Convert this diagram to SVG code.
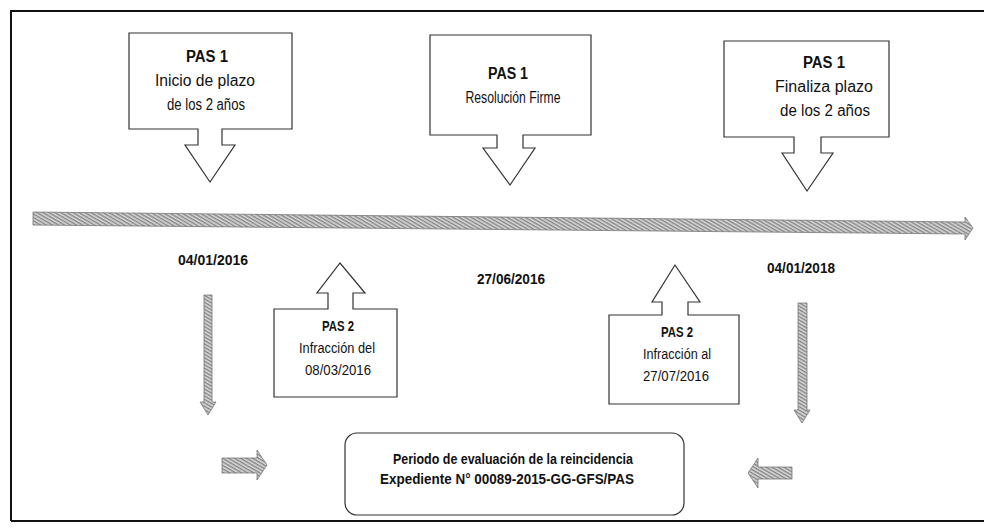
<svg xmlns="http://www.w3.org/2000/svg" width="984" height="529" viewBox="0 0 984 529">
<defs>
<pattern id="ht" width="3" height="3" patternUnits="userSpaceOnUse" patternTransform="rotate(30)">
<rect width="3" height="3" fill="#d8d8d8"/>
<rect width="3" height="1.3" fill="#808080"/>
</pattern>
</defs>
<style>
.frame{fill:none;stroke:#111;stroke-width:2}
.box{fill:#fff;stroke:#333;stroke-width:1.2;stroke-linejoin:miter}
.arr{fill:url(#ht);stroke:#777;stroke-width:0.8}
.t{font-family:"Liberation Sans",Arial,sans-serif;fill:#111;text-anchor:middle}
.b{font-weight:bold}
.l{font-size:16px}
.s{font-size:14px}
</style>
<rect width="984" height="529" fill="#fff"/>
<path class="frame" d="M11,521 V11 H984 M11,521 H984"/>

<g id="connectors">
<path id="timeline" class="arr" d="M33,212 L965,222 L965,217 L973,228 L965,240 L965,234 L33,225 Z"/>
<path id="down-left" class="arr" d="M204,295 H212 V402 H216 L208,415 L200,402 H204 Z"/>
<path id="down-right" class="arr" d="M798,303 H807 V410 H810 L802,423 L794,410 H798 Z"/>
<path id="right-arrow" class="arr" d="M222,458 H257 V450 L267,465 L257,480 V473 H222 Z"/>
<path id="left-arrow" class="arr" d="M792,467 H758 V458 L748,473 L758,488 V479 H792 Z"/>
</g>

<g id="pas1-inicio">
<path class="box" d="M129,33 H292 V129 H222 V145 H235 L210,182 L185,145 H198 V129 H129 Z"/>
<text class="t b l" x="207" y="62" textLength="42" lengthAdjust="spacingAndGlyphs">PAS 1</text>
<text class="t l" x="205" y="86" textLength="100" lengthAdjust="spacingAndGlyphs">Inicio de plazo</text>
<text class="t l" x="206" y="110" textLength="78" lengthAdjust="spacingAndGlyphs">de los 2 años</text>
</g>

<g id="pas1-resolucion">
<path class="box" d="M430,35 H591 V135 H523 V148 H535 L510,185 L483,148 H497 V135 H430 Z"/>
<text class="t b l" x="508" y="79" textLength="40" lengthAdjust="spacingAndGlyphs">PAS 1</text>
<text class="t l" x="513" y="103" textLength="95" lengthAdjust="spacingAndGlyphs">Resolución Firme</text>
</g>

<g id="pas1-finaliza">
<path class="box" d="M724,41 H889 V137 H821 V153 H833 L807,191 L782,153 H794 V137 H724 Z"/>
<text class="t b l" x="824" y="68" textLength="42" lengthAdjust="spacingAndGlyphs">PAS 1</text>
<text class="t l" x="824" y="92" textLength="98" lengthAdjust="spacingAndGlyphs">Finaliza plazo</text>
<text class="t l" x="825" y="116" textLength="90" lengthAdjust="spacingAndGlyphs">de los 2 años</text>
</g>

<g id="dates">
<text class="t b s" x="213" y="265" textLength="70" lengthAdjust="spacingAndGlyphs">04/01/2016</text>
<text class="t b s" x="511" y="284" textLength="68" lengthAdjust="spacingAndGlyphs">27/06/2016</text>
<text class="t b s" x="801" y="273" textLength="68" lengthAdjust="spacingAndGlyphs">04/01/2018</text>
</g>

<g id="pas2-infraccion-del">
<path class="box" d="M274,309 H328 V293 H317 L340,263 L365,293 H353 V309 H397 V397 H274 Z"/>
<text class="t b s" x="338" y="331" textLength="32" lengthAdjust="spacingAndGlyphs">PAS 2</text>
<text class="t s" x="337" y="353" textLength="76" lengthAdjust="spacingAndGlyphs">Infracción del</text>
<text class="t s" x="338" y="375" textLength="66" lengthAdjust="spacingAndGlyphs">08/03/2016</text>
</g>

<g id="pas2-infraccion-al">
<path class="box" d="M609,315 H662 V302 H652 L675,265 L700,302 H688 V315 H739 V404 H609 Z"/>
<text class="t b s" x="677" y="337" textLength="32" lengthAdjust="spacingAndGlyphs">PAS 2</text>
<text class="t s" x="677" y="359" textLength="68" lengthAdjust="spacingAndGlyphs">Infracción al</text>
<text class="t s" x="676" y="381" textLength="66" lengthAdjust="spacingAndGlyphs">27/07/2016</text>
</g>

<g id="periodo">
<rect class="box" x="345" y="433" width="339" height="82" rx="12"/>
<text class="t b s" x="513" y="464" textLength="240" lengthAdjust="spacingAndGlyphs">Periodo de evaluación de la reincidencia</text>
<text class="t b s" x="507" y="484" textLength="254" lengthAdjust="spacingAndGlyphs">Expediente N° 00089-2015-GG-GFS/PAS</text>
</g>
</svg>
